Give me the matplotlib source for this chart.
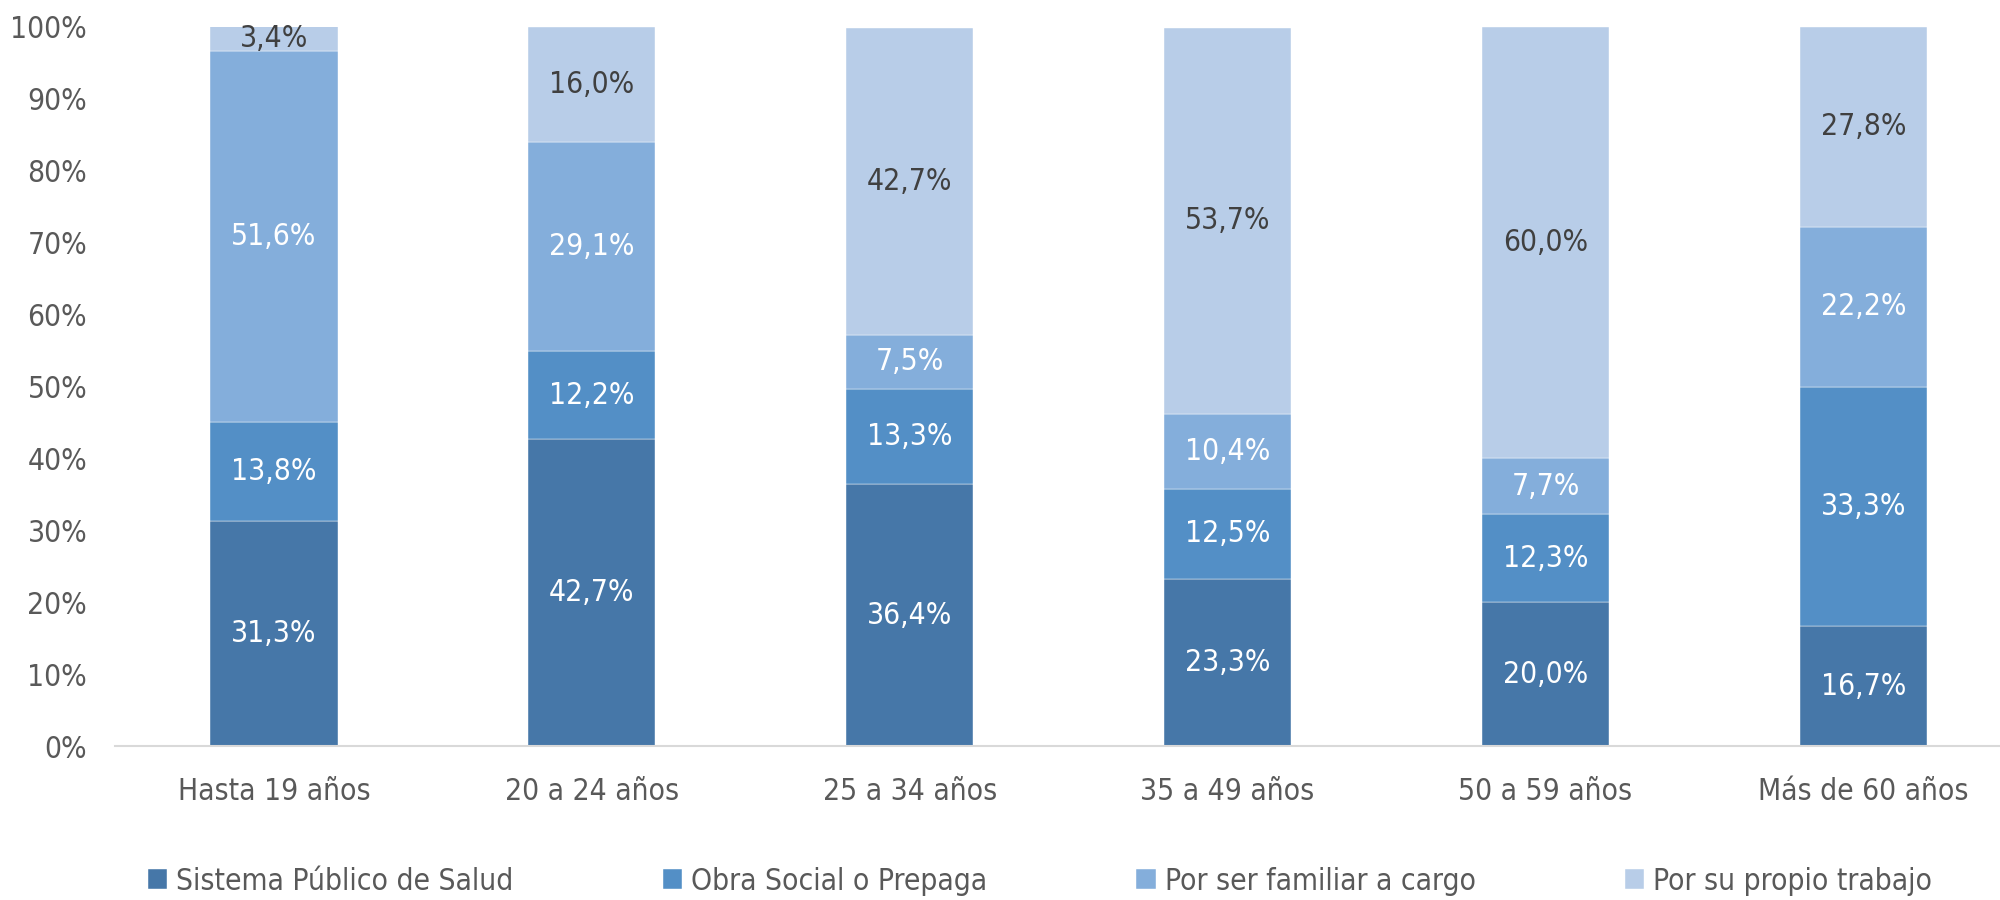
import matplotlib.pyplot as plt
import numpy as np

# data (percent)
categories = ['Hasta 19 años', '20 a 24 años', '25 a 34 años',
              '35 a 49 años', '50 a 59 años', 'Más de 60 años']
series_names = ['Sistema Público de Salud', 'Obra Social o Prepaga',
                'Por ser familiar a cargo', 'Por su propio trabajo']
sistema_publico = [31.3, 42.7, 36.4, 23.3, 20.0, 16.7]
obra_social = [13.8, 12.2, 13.3, 12.5, 12.3, 33.3]
familiar_cargo = [51.6, 29.1, 7.5, 10.4, 7.7, 22.2]
propio_trabajo = [3.4, 16.0, 42.7, 53.7, 60.0, 27.8]

colors = ['#4677A8', '#538FC6', '#84AEDB', '#B8CDE8']
label_colors = ['white', 'white', 'white', '#404040']

plt.rcParams['font.family'] = ['DejaVu Sans']
plt.rcParams['font.stretch'] = 'condensed'

fig = plt.figure(figsize=(20, 9), dpi=100)
ax = fig.add_axes([0.0575, 0.171, 0.9425, 0.799])

x = np.arange(len(categories))
bottom = np.zeros(len(categories))
all_series = [sistema_publico, obra_social, familiar_cargo, propio_trabajo]
for vals, name, col, lcol in zip(all_series, series_names, colors, label_colors):
    vals = np.array(vals)
    ax.bar(x, vals, 0.4, bottom=bottom, color=col, label=name,
           edgecolor='white', linewidth=0.3)
    for xi, b, v in zip(x, bottom, vals):
        ax.text(xi, b + v / 2, f'{v:.1f}%'.replace('.', ','), ha='center',
                va='center', color=lcol, fontsize=21.5, fontstretch='condensed')
    bottom += vals

ax.set_ylim(0, 100)
ax.set_xlim(-0.5, len(categories) - 0.57)
ax.set_yticks(range(0, 101, 10))
ax.set_yticklabels([f'{v}%' for v in range(0, 101, 10)])
ax.set_xticks(x)
ax.set_xticklabels(categories)
ax.tick_params(axis='both', length=0, labelsize=21.5, colors='#595959', pad=20)
ax.tick_params(axis='x', pad=22)
for s in ['top', 'right', 'left']:
    ax.spines[s].set_visible(False)
ax.spines['bottom'].set_color('#D9D9D9')
ax.spines['bottom'].set_linewidth(1.5)

leg = fig.legend(loc='lower center', bbox_to_anchor=(0.52, -0.025), ncol=4,
                 frameon=False, fontsize=21.5, handlelength=0.65, handleheight=0.65,
                 handletextpad=0.3, columnspacing=5.0)
for t in leg.get_texts():
    t.set_color('#595959')

fig.savefig('out.png', dpi=100)
